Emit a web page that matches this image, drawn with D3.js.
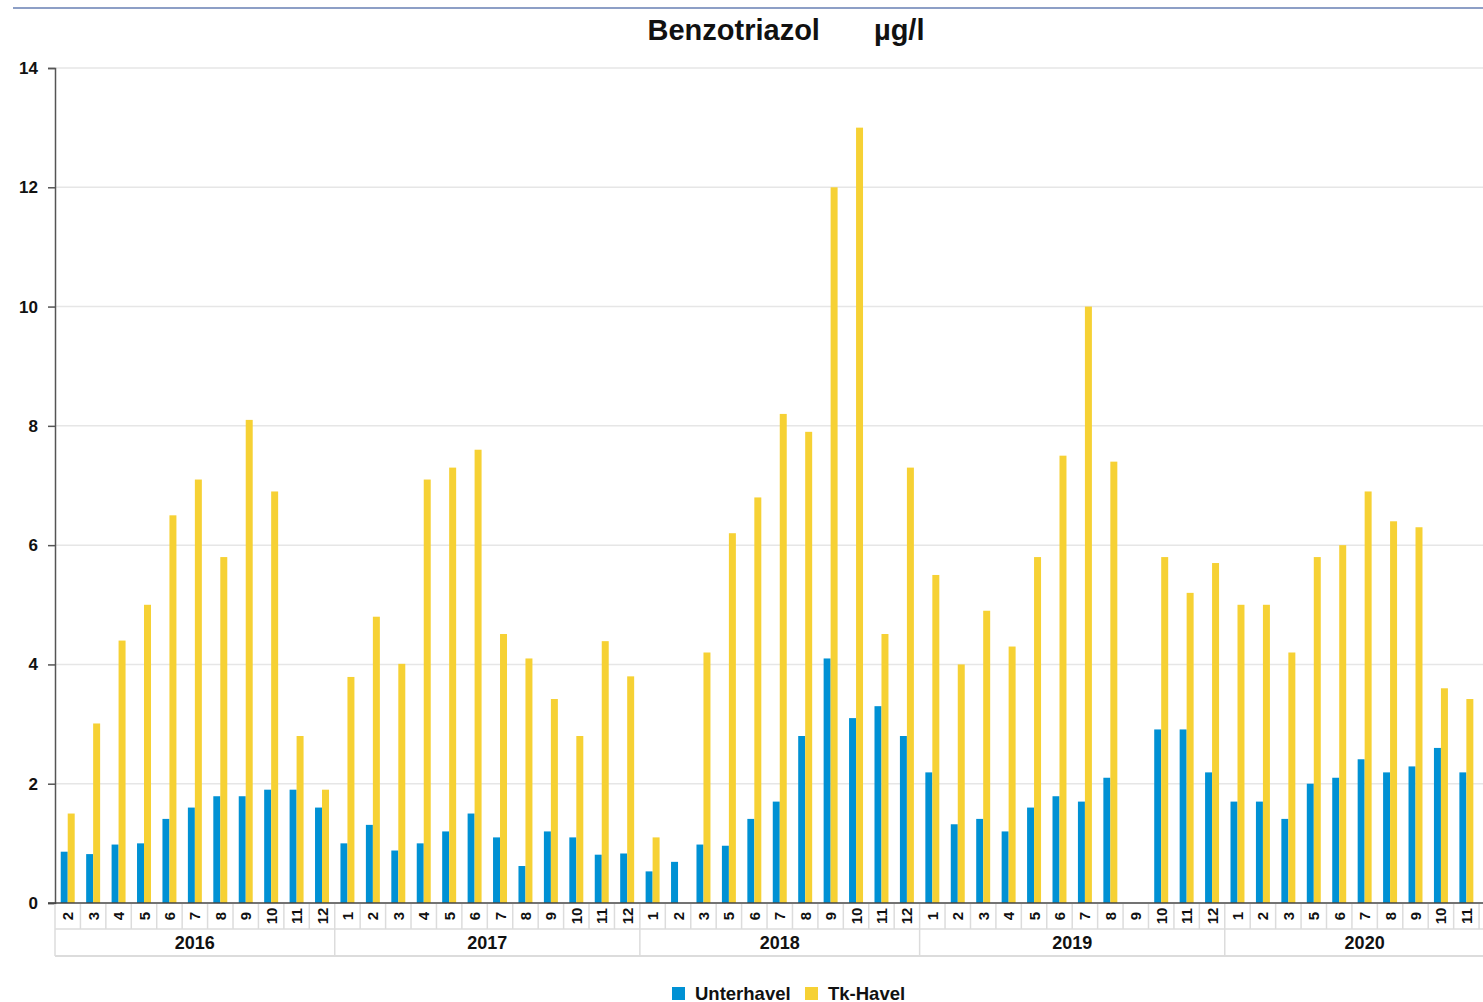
<!DOCTYPE html>
<html>
<head>
<meta charset="utf-8">
<script src="https://cdn.jsdelivr.net/npm/d3@7"></script>
<style>
  body { margin: 0; background: #fff; overflow: hidden; }
  svg { display: block; font-family: "Liberation Sans", Arial, sans-serif; font-weight: bold; }
</style>
</head>
<body>
<div id="chart"></div>
<script>
const years = [2016, 2017, 2018, 2019, 2020]
const monthsByYear = [
    [2, 3, 4, 5, 6, 7, 8, 9, 10, 11, 12],
    [1, 2, 3, 4, 5, 6, 7, 8, 9, 10, 11, 12],
    [1, 2, 3, 5, 6, 7, 8, 9, 10, 11, 12],
    [1, 2, 3, 4, 5, 6, 7, 8, 9, 10, 11, 12],
    [1, 2, 3, 5, 6, 7, 8, 9, 10, 11, 12]
]
const seriesNames = ["Unterhavel", "Tk-Havel"]
const unterhavel = [
    0.86, 0.82, 0.98, 1.0, 1.41, 1.6, 1.79, 1.79, 1.9, 1.9, 1.6,
    1.0, 1.31, 0.88, 1.0, 1.2, 1.5, 1.1, 0.62, 1.2, 1.1, 0.81, 0.83,
    0.53, 0.69, 0.98, 0.96, 1.41, 1.7, 2.8, 4.1, 3.1, 3.3, 2.8,
    2.19, 1.32, 1.41, 1.2, 1.6, 1.79, 1.7, 2.1, null, 2.91, 2.91, 2.19,
    1.7, 1.7, 1.41, 2.0, 2.1, 2.41, 2.19, 2.29, 2.6, 2.19, null
]
const tkHavel = [
    1.5, 3.01, 4.4, 5.0, 6.5, 7.1, 5.8, 8.1, 6.9, 2.8, 1.9,
    3.79, 4.8, 4.01, 7.1, 7.3, 7.6, 4.51, 4.1, 3.42, 2.8, 4.39, 3.8,
    1.1, null, 4.2, 6.2, 6.8, 8.2, 7.9, 12.0, 13.0, 4.51, 7.3,
    5.5, 4.0, 4.9, 4.3, 5.8, 7.5, 10.0, 7.4, null, 5.8, 5.2, 5.7,
    5.0, 5.0, 4.2, 5.8, 6.0, 6.9, 6.4, 6.3, 3.6, 3.42, null
]
const yTicks = [0, 2, 4, 6, 8, 10, 12, 14]

const colors = { "Unterhavel": "#0091d4", "Tk-Havel": "#f6d134" }

const width = 1483,
    height = 1002,
    plotLeft = 55,
    plotTop = 68,
    plotBottom = 903,
    step = 25.43;

const categories = []
years.forEach((year, i) => {
    monthsByYear[i].forEach(m => categories.push({ key: year + "-" + m, year: year, month: m }))
})
const rows = categories.map((c, i) => ({ ...c, values: [unterhavel[i], tkHavel[i]] }))

const svg = d3.select("#chart")
    .append("svg")
    .attr("width", width)
    .attr("height", height)

const x0 = d3.scaleBand()
    .domain(categories.map(c => c.key))
    .range([plotLeft, plotLeft + categories.length * step])
    .padding(0)

const x1 = d3.scaleBand()
    .domain(seriesNames)
    .range([0, x0.bandwidth()])
    .paddingInner(0)
    .paddingOuter(0.82)

const y = d3.scaleLinear()
    .domain([0, 14])
    .range([plotBottom, plotTop])

// top rule
svg.append("line")
    .attr("x1", 13).attr("x2", width)
    .attr("y1", 8).attr("y2", 8)
    .attr("stroke", "#8d9fc6")
    .attr("stroke-width", 2)

const title = svg.append("text")
    .attr("x", 786)
    .attr("y", 40)
    .attr("text-anchor", "middle")
    .attr("font-size", "29px")
    .attr("fill", "#111")
title.append("tspan").text("Benzotriazol")
title.append("tspan").attr("dx", 54).text("µg/l")

// grid
svg.append("g")
    .selectAll("line")
    .data(yTicks.filter(t => t > 0))
    .enter()
    .append("line")
    .attr("x1", plotLeft).attr("x2", width)
    .attr("y1", d => y(d)).attr("y2", d => y(d))
    .attr("stroke", "#e6e6e6")
    .attr("stroke-width", 1.5)

// y axis
const yAxis = svg.append("g")
    .attr("transform", `translate(${plotLeft},0)`)
    .call(d3.axisLeft(y).tickValues(yTicks).tickSize(7).tickPadding(10).tickFormat(d3.format("d")))
yAxis.select(".domain").attr("stroke", "#555").attr("stroke-width", 1.5)
yAxis.selectAll(".tick line").attr("stroke", "#555").attr("stroke-width", 1.5)
yAxis.selectAll(".tick text")
    .attr("font-size", "17px")
    .attr("font-family", "'Liberation Sans', Arial, sans-serif")
    .attr("font-weight", "bold")
    .attr("fill", "#111")

// bars
const groups = svg.append("g")
    .selectAll("g")
    .data(rows)
    .enter()
    .append("g")
    .attr("transform", d => `translate(${x0(d.key)},0)`)

groups.selectAll("rect")
    .data(d => seriesNames.map((s, i) => ({ name: s, value: d.values[i] })).filter(v => v.value != null))
    .enter()
    .append("rect")
    .attr("x", d => x1(d.name))
    .attr("width", x1.bandwidth())
    .attr("y", d => y(d.value))
    .attr("height", d => y(0) - y(d.value))
    .attr("fill", d => colors[d.name])

// month cells
const cellTop = plotBottom + 1,
    yearTop = 929,
    yearBottom = 956;

svg.append("g")
    .selectAll("line")
    .data(categories)
    .enter()
    .append("line")
    .attr("x1", d => x0(d.key)).attr("x2", d => x0(d.key))
    .attr("y1", cellTop).attr("y2", yearTop)
    .attr("stroke", "#dcdcdc")
    .attr("stroke-width", 1.5)

// labels past the right edge are hidden in the original too
svg.append("g")
    .selectAll("text")
    .data(categories.filter(c => x0(c.key) + x0.bandwidth() <= width))
    .enter()
    .append("text")
    .attr("transform", d => `translate(${x0(d.key) + x0.bandwidth() / 2},916) rotate(-90)`)
    .attr("text-anchor", "middle")
    .attr("dominant-baseline", "central")
    .attr("font-size", "15px")
    .attr("fill", "#111")
    .text(d => d.month)

// year cells
const xEnd = plotLeft + categories.length * step
svg.append("line")
    .attr("x1", plotLeft).attr("x2", xEnd)
    .attr("y1", yearTop).attr("y2", yearTop)
    .attr("stroke", "#dcdcdc").attr("stroke-width", 1.5)
svg.append("line")
    .attr("x1", plotLeft).attr("x2", xEnd)
    .attr("y1", yearBottom).attr("y2", yearBottom)
    .attr("stroke", "#dcdcdc").attr("stroke-width", 2)

const yearSpans = years.map(year => {
    const keys = categories.filter(c => c.year === year).map(c => c.key)
    return { year: year, x0: x0(keys[0]), x1: x0(keys[keys.length - 1]) + x0.bandwidth() }
})

svg.append("g")
    .selectAll("line")
    .data(yearSpans)
    .enter()
    .append("line")
    .attr("x1", d => d.x0).attr("x2", d => d.x0)
    .attr("y1", yearTop).attr("y2", yearBottom)
    .attr("stroke", "#dcdcdc")
    .attr("stroke-width", 1.5)

svg.append("g")
    .selectAll("text")
    .data(yearSpans)
    .enter()
    .append("text")
    .attr("x", d => (d.x0 + d.x1) / 2)
    .attr("y", 943)
    .attr("text-anchor", "middle")
    .attr("dominant-baseline", "central")
    .attr("font-size", "18px")
    .attr("fill", "#111")
    .text(d => d.year)

// x axis baseline
svg.append("line")
    .attr("x1", plotLeft - 7).attr("x2", width)
    .attr("y1", plotBottom).attr("y2", plotBottom)
    .attr("stroke", "#444")
    .attr("stroke-width", 1.5)

// legend
const legendItems = [
    { name: "Unterhavel", x: 672 },
    { name: "Tk-Havel", x: 805 }
]
const legend = svg.append("g")
    .selectAll("g")
    .data(legendItems)
    .enter()
    .append("g")
    .attr("transform", d => `translate(${d.x},987)`)

legend.append("rect")
    .attr("width", 13)
    .attr("height", 13)
    .attr("fill", d => colors[d.name])

legend.append("text")
    .attr("x", 23)
    .attr("y", 12.5)
    .attr("font-size", "18.5px")
    .attr("fill", "#111")
    .text(d => d.name)
</script>
</body>
</html>
